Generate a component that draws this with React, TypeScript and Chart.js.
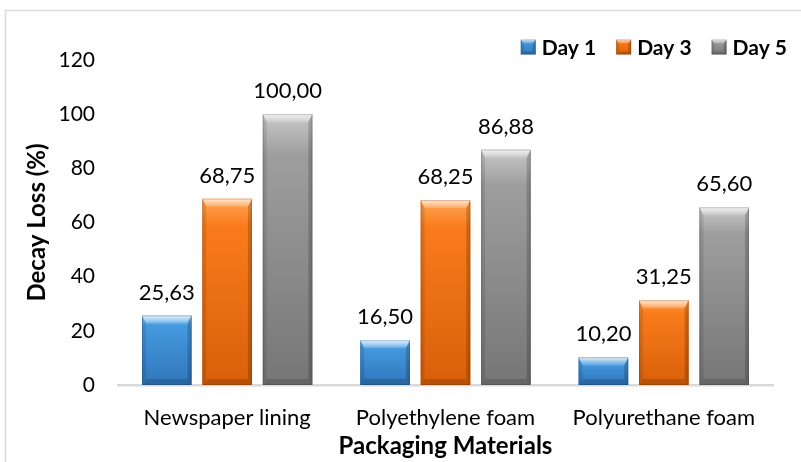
import React, { useEffect, useRef } from "react";
import { Chart, registerables } from "chart.js";

Chart.register(...registerables);

const categories = ["Newspaper lining", "Polyethylene foam", "Polyurethane foam"];
const seriesNames = ["Day 1", "Day 3", "Day 5"];
const day1 = [25.63, 16.5, 10.2];
const day3 = [68.75, 68.25, 31.25];
const day5 = [100.0, 86.88, 65.6];
const yTicks = [0, 20, 40, 60, 80, 100, 120];

const FONT = "Lato";
const baseColors = ["#4599DF", "#F97B1B", "#9E9E9E"];
const lightColors = ["#7EC0F2", "#FFA352", "#C8C8C8"];
const darkColors = ["#3076BA", "#D9600A", "#767676"];

function fmt(v: number) {
  return v.toFixed(2).replace(".", ",");
}

function drawBevelRect(ctx: any, L: number, T: number, width: number, h: number, di: number, s: number, bt: number, bb: number) {
  const R = L + width;
  const B = T + h;
  ctx.save();
  const g = ctx.createLinearGradient(0, T, 0, B);
  g.addColorStop(0, lightColors[di]);
  g.addColorStop(0.15, baseColors[di]);
  g.addColorStop(1, darkColors[di]);
  ctx.fillStyle = g;
  ctx.fillRect(L, T, width, h);
  const gt = ctx.createLinearGradient(0, T, 0, T + bt);
  gt.addColorStop(0, "rgba(255,255,255,0.75)");
  gt.addColorStop(1, "rgba(255,255,255,0.15)");
  ctx.fillStyle = gt;
  ctx.beginPath();
  ctx.moveTo(L, T);
  ctx.lineTo(R, T);
  ctx.lineTo(R - s, T + bt);
  ctx.lineTo(L + s, T + bt);
  ctx.closePath();
  ctx.fill();
  ctx.fillStyle = "rgba(0,0,0,0.10)";
  ctx.beginPath();
  ctx.moveTo(L, T);
  ctx.lineTo(L + s, T + bt);
  ctx.lineTo(L + s, B - bb);
  ctx.lineTo(L, B);
  ctx.closePath();
  ctx.fill();
  ctx.fillStyle = "rgba(0,0,0,0.18)";
  ctx.beginPath();
  ctx.moveTo(R, T);
  ctx.lineTo(R - s, T + bt);
  ctx.lineTo(R - s, B - bb);
  ctx.lineTo(R, B);
  ctx.closePath();
  ctx.fill();
  ctx.fillStyle = "rgba(0,0,0,0.15)";
  ctx.beginPath();
  ctx.moveTo(L, B);
  ctx.lineTo(L + s, B - bb);
  ctx.lineTo(R - s, B - bb);
  ctx.lineTo(R, B);
  ctx.closePath();
  ctx.fill();
  ctx.strokeStyle = "rgba(0,0,0,0.15)";
  ctx.lineWidth = 1;
  ctx.strokeRect(L + 0.5, T + 0.5, width - 1, h - 1);
  ctx.restore();
}

const bevelPlugin = {
  id: "bevel",
  beforeDraw(chart: any) {
    const ctx = chart.ctx;
    ctx.save();
    ctx.fillStyle = "#ffffff";
    ctx.fillRect(0, 0, chart.width, chart.height);
    ctx.strokeStyle = "#d9d9d9";
    ctx.lineWidth = 1.5;
    ctx.strokeRect(5.5, 10.5, chart.width + 20, chart.height + 20);
    ctx.restore();
  },
  afterDatasetsDraw(chart: any) {
    const ctx = chart.ctx;
    chart.data.datasets.forEach((ds: any, di: number) => {
      const meta = chart.getDatasetMeta(di);
      meta.data.forEach((bar: any, i: number) => {
        const { x, y, base, width } = bar.getProps(["x", "y", "base", "width"], true);
        const L = x - width / 2;
        const T = y;
        const h = base - y;
        drawBevelRect(ctx, L, T, width, h, di, Math.min(4, width / 6), Math.min(8, h / 3), Math.min(6, h / 4));
        ctx.save();
        ctx.fillStyle = "#000";
        ctx.font = `22px ${FONT}`;
        ctx.textAlign = "center";
        ctx.textBaseline = "alphabetic";
        ctx.fillText(fmt(ds.data[i]), x, T - 16);
        ctx.restore();
      });
    });
  },
  afterDraw(chart: any) {
    const ctx = chart.ctx;
    ctx.save();
    ctx.font = `bold 21px ${FONT}`;
    ctx.textBaseline = "middle";
    ctx.textAlign = "left";
    const box = 15;
    const gapBT = 6;
    const gapItem = 20;
    const cy = 47;
    const widths = seriesNames.map((n) => ctx.measureText(n).width);
    let total = 0;
    widths.forEach((w, i) => {
      total += box + gapBT + w + (i < widths.length - 1 ? gapItem : 0);
    });
    let xPos = 787 - total;
    seriesNames.forEach((n, i) => {
      drawBevelRect(ctx, xPos, cy - box / 2, box, box, i, 3, 4, 3);
      ctx.fillStyle = "#000";
      ctx.fillText(n, xPos + box + gapBT, cy + 1);
      xPos += box + gapBT + widths[i] + gapItem;
    });
    ctx.restore();
  },
};

export default function App() {
  const ref = useRef<HTMLCanvasElement | null>(null);
  useEffect(() => {
    if (!ref.current) return;
    const values = [day1, day3, day5];
    const chart = new Chart(ref.current, {
      type: "bar",
      data: {
        labels: categories,
        datasets: seriesNames.map((n, i) => ({
          label: n,
          data: values[i],
          backgroundColor: baseColors[i],
          borderWidth: 0,
          barPercentage: 0.82,
          categoryPercentage: 0.83,
        })),
      },
      options: {
        responsive: false,
        animation: false,
        layout: { padding: { top: 60, right: 28, left: 0, bottom: 0 } },
        plugins: {
          legend: { display: false },
          tooltip: { enabled: false },
        },
        scales: {
          x: {
            grid: { display: false, drawTicks: false },
            border: { display: true, color: "#d9d9d9", width: 2.5 },
            ticks: { font: { family: FONT, size: 22 }, color: "#000", padding: 20 },
            title: {
              display: true,
              text: "Packaging Materials",
              font: { family: FONT, size: 24, weight: "bold" },
              color: "#000",
              padding: { top: 0, bottom: 1 },
            },
            afterFit: (s: any) => {
              s.height = 77;
            },
          },
          y: {
            min: 0,
            max: 120,
            afterBuildTicks: (s: any) => {
              s.ticks = yTicks.map((v) => ({ value: v }));
            },
            grid: { display: false, drawTicks: false },
            border: { display: false },
            ticks: { font: { family: FONT, size: 21 }, color: "#000", padding: 23 },
            title: {
              display: true,
              text: "Decay Loss (%)",
              font: { family: FONT, size: 24, weight: "bold" },
              color: "#000",
              padding: { top: 23, bottom: 0 },
            },
            afterFit: (s: any) => {
              s.width = 118;
            },
          },
        },
      },
      plugins: [bevelPlugin],
    });
    return () => chart.destroy();
  }, []);
  return (
    <div style={{ position: "absolute", left: 0, top: 0, width: 801, height: 462 }}>
      <canvas ref={ref} width={801} height={462} />
    </div>
  );
}
